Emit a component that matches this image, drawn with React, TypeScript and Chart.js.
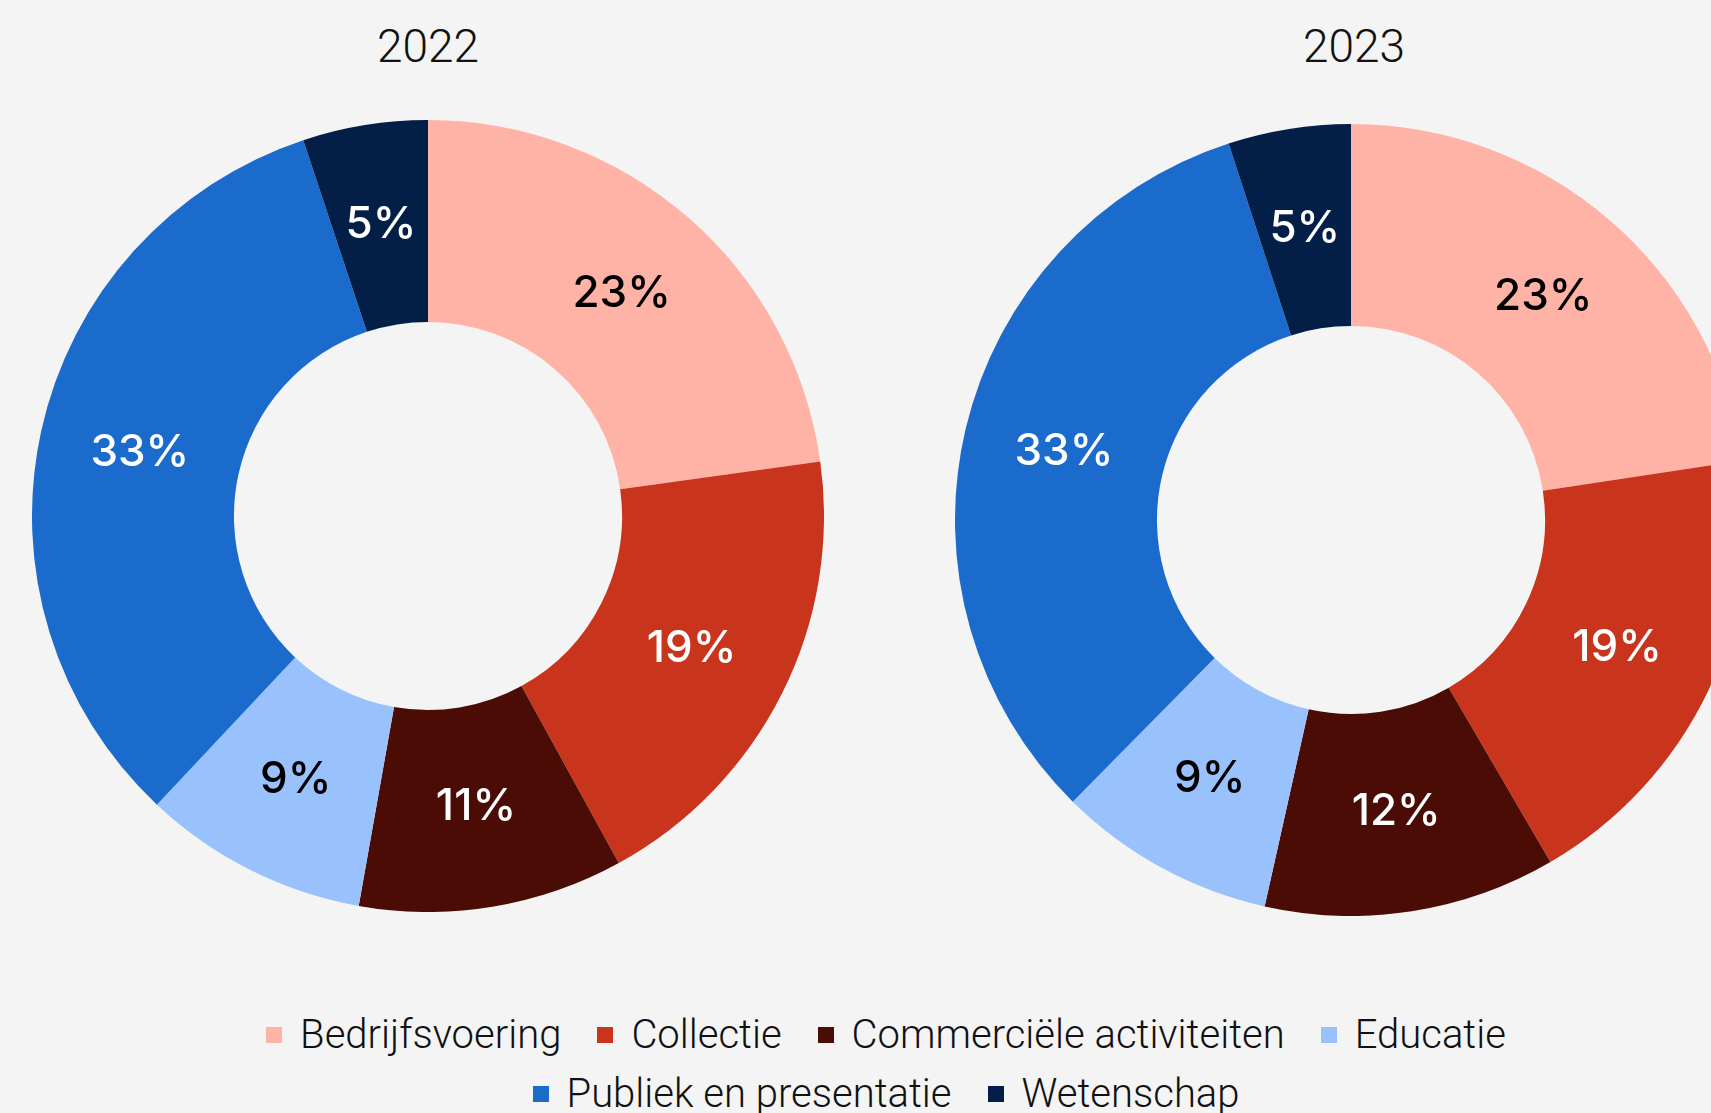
import React, { useEffect, useRef } from "react";
import { Chart, registerables } from "chart.js";

Chart.register(...registerables);

const categories = [
  "Bedrijfsvoering",
  "Collectie",
  "Commerciële activiteiten",
  "Educatie",
  "Publiek en presentatie",
  "Wetenschap",
];
const values2022 = [22.8, 19.2, 10.8, 9.2, 32.9, 5.1];
const values2023 = [22.6, 19.0, 11.9, 8.9, 32.6, 5.0];
const years = ["2022", "2023"];
const colors = ["#ffb3a7", "#c9341c", "#4a0c04", "#99c2fc", "#1b6bcc", "#041f47"];
const labelColors = ["#000000", "#ffffff", "#ffffff", "#000000", "#ffffff", "#ffffff"];

const BG = "#f4f4f4";

const labelPlugin = {
  id: "sliceLabels",
  afterDatasetsDraw(chart: any) {
    const ctx = chart.ctx;
    const meta = chart.getDatasetMeta(0);
    const data = chart.data.datasets[0].data as number[];
    ctx.save();
    ctx.font = "500 44px Inter, 'Noto Sans', sans-serif";
    ctx.textAlign = "center";
    ctx.textBaseline = "middle";
    meta.data.forEach((arc: any, i: number) => {
      const p = arc.getCenterPoint();
      ctx.fillStyle = labelColors[i];
      ctx.fillText(Math.round(data[i]) + "%", p.x, p.y);
    });
    ctx.restore();
  },
};

function Donut({ values, left, top }: { values: number[]; left: number; top: number }) {
  const ref = useRef<HTMLCanvasElement>(null);
  useEffect(() => {
    if (!ref.current) return;
    const chart = new Chart(ref.current, {
      type: "doughnut",
      data: {
        labels: categories,
        datasets: [
          {
            data: values,
            backgroundColor: colors,
            borderWidth: 0,
          },
        ],
      },
      options: {
        animation: false,
        responsive: false,
        cutout: "49%",
        layout: { padding: 0 },
        plugins: {
          legend: { display: false },
          tooltip: { enabled: false },
          title: { display: false },
        },
      },
      plugins: [labelPlugin],
    });
    return () => chart.destroy();
  }, [values]);
  return (
    <canvas
      ref={ref}
      width={792}
      height={792}
      style={{ position: "absolute", left, top, width: 792, height: 792 }}
    />
  );
}

export default function App() {
  const titleStyle = (cx: number): React.CSSProperties => ({
    position: "absolute",
    left: cx - 200,
    top: 21,
    width: 400,
    textAlign: "center",
    fontFamily: "Roboto, 'Liberation Sans', sans-serif",
    fontWeight: 300,
    fontSize: 46,
    lineHeight: "50px",
    color: "#111111",
  });
  return (
    <div
      style={{
        position: "fixed",
        left: 0,
        top: 0,
        width: 1711,
        height: 1113,
        overflow: "hidden",
        background: BG,
      }}
    >
      <div style={titleStyle(428)}>{years[0]}</div>
      <div style={titleStyle(1354)}>{years[1]}</div>
      <Donut values={values2022} left={32} top={120} />
      <Donut values={values2023} left={955} top={124} />
      <div
        style={{
          position: "absolute",
          left: 186,
          top: 1011,
          width: 1400,
          display: "flex",
          flexWrap: "wrap",
          justifyContent: "center",
          columnGap: 36,
          rowGap: 11,
          fontFamily: "Roboto, 'Liberation Sans', sans-serif",
          fontWeight: 300,
          fontSize: 40,
          lineHeight: "48px",
          color: "#111111",
        }}
      >
        {categories.map((c, i) => (
          <div key={c} style={{ display: "flex", alignItems: "center", whiteSpace: "nowrap" }}>
            <span
              style={{
                display: "inline-block",
                width: 16,
                height: 16,
                background: colors[i],
                marginRight: 18,
              }}
            />
            <span>{c}</span>
          </div>
        ))}
      </div>
    </div>
  );
}
